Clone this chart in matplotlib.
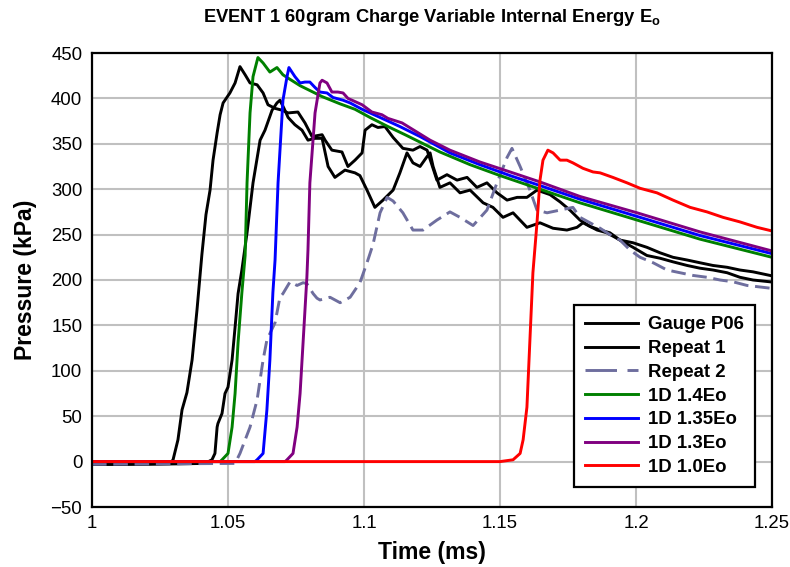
import matplotlib
matplotlib.use("Agg")
import matplotlib.pyplot as plt
from matplotlib.lines import Line2D

plt.rcParams['font.family'] = ['Liberation Sans', 'DejaVu Sans']
plt.rcParams['mathtext.fontset'] = 'custom'
plt.rcParams['mathtext.rm'] = 'Liberation Sans'
plt.rcParams['mathtext.bf'] = 'Liberation Sans:bold'

# ---------------- data (time in ms, pressure in kPa) ----------------
gauge_t = [1.0000, 1.0103, 1.0213, 1.0287, 1.0298, 1.0316, 1.0331, 1.0349, 1.0368, 1.0386,
           1.0404, 1.0419, 1.0434, 1.0445, 1.0460, 1.0471, 1.0482, 1.0507, 1.0526, 1.0544,
           1.0563, 1.0581, 1.0607, 1.0629, 1.0647, 1.0673, 1.0699, 1.0721, 1.0757, 1.0783,
           1.0809, 1.0846, 1.0857, 1.0882, 1.0919, 1.0941, 1.0967, 1.0993, 1.1004, 1.1029,
           1.1051, 1.1077, 1.1107, 1.1143, 1.1180, 1.1206, 1.1232, 1.1268, 1.1305, 1.1342,
           1.1379, 1.1415, 1.1452, 1.1489, 1.1526, 1.1563, 1.1599, 1.1636, 1.1684, 1.1721,
           1.1757, 1.1794, 1.1831, 1.1868, 1.1904, 1.1941, 1.1989, 1.2040, 1.2088, 1.2136,
           1.2188, 1.2235, 1.2283, 1.2335, 1.2382, 1.2430, 1.2493]
gauge_p = [-3, -3, -2, -2, 2, 24, 57, 76, 112, 167,
           228, 272, 299, 332, 362, 382, 395, 406, 417, 435,
           426, 417, 415, 406, 393, 389, 387, 384, 385, 373,
           358, 360, 354, 343, 341, 325, 332, 340, 365, 371,
           368, 369, 357, 345, 343, 347, 343, 310, 316, 310,
           313, 302, 307, 296, 288, 291, 291, 299, 294, 286,
           277, 266, 259, 255, 252, 244, 241, 236, 230, 225,
           222, 219, 216, 214, 211, 209, 205]

rep1_t = [1.0000, 1.0213, 1.0415, 1.0441, 1.0452, 1.0460, 1.0463, 1.0478, 1.0489, 1.0500,
          1.0515, 1.0526, 1.0537, 1.0551, 1.0570, 1.0592, 1.0618, 1.0636, 1.0662, 1.0680,
          1.0691, 1.0706, 1.0721, 1.0746, 1.0772, 1.0794, 1.0820, 1.0846, 1.0868, 1.0893,
          1.0930, 1.0967, 1.0985, 1.1011, 1.1040, 1.1070, 1.1107, 1.1132, 1.1158, 1.1180,
          1.1206, 1.1232, 1.1243, 1.1254, 1.1279, 1.1316, 1.1353, 1.1390, 1.1438, 1.1474,
          1.1511, 1.1548, 1.1599, 1.1647, 1.1695, 1.1746, 1.1783, 1.1805, 1.1857, 1.1893,
          1.1941, 1.1989, 1.2040, 1.2088, 1.2136, 1.2188, 1.2235, 1.2283, 1.2335, 1.2382,
          1.2430, 1.2493]
rep1_p = [-3, -3, -2, 2, 9, 38, 42, 53, 75, 82,
          112, 148, 185, 211, 252, 307, 354, 365, 387, 395,
          398, 389, 379, 371, 365, 354, 356, 356, 325, 313,
          321, 318, 315, 299, 280, 288, 299, 318, 340, 329,
          325, 336, 340, 325, 302, 307, 296, 299, 285, 280,
          269, 274, 258, 263, 257, 255, 258, 263, 255, 252,
          244, 236, 227, 224, 220, 216, 213, 211, 208, 203,
          200, 198]

rep2_t = [1.0000, 1.0526, 1.0544, 1.0581, 1.0607, 1.0629, 1.0643, 1.0673, 1.0691, 1.0702,
          1.0728, 1.0754, 1.0776, 1.0790, 1.0813, 1.0827, 1.0838, 1.0875, 1.0912, 1.0949,
          1.0985, 1.1011, 1.1033, 1.1059, 1.1085, 1.1107, 1.1143, 1.1180, 1.1217, 1.1268,
          1.1316, 1.1353, 1.1401, 1.1452, 1.1489, 1.1526, 1.1544, 1.1574, 1.1610, 1.1636,
          1.1673, 1.1721, 1.1768, 1.1794, 1.1831, 1.1868, 1.1904, 1.1941, 1.1978, 1.2015,
          1.2063, 1.2114, 1.2162, 1.2210, 1.2261, 1.2309, 1.2357, 1.2408, 1.2493]
rep2_p = [-3, -2, 9, 38, 68, 112, 134, 153, 181, 185,
          198, 194, 197, 196, 185, 180, 178, 181, 175, 181,
          197, 219, 239, 274, 291, 287, 274, 255, 255, 266,
          275, 269, 260, 277, 307, 335, 345, 325, 299, 277,
          274, 277, 280, 269, 263, 257, 250, 244, 233, 225,
          219, 211, 208, 205, 203, 200, 198, 194, 191]

e14_t = [1.0000, 1.0471, 1.0478, 1.0500, 1.0515, 1.0526, 1.0537, 1.0551, 1.0563, 1.0570,
         1.0581, 1.0592, 1.0610, 1.0629, 1.0654, 1.0680, 1.0702, 1.0728, 1.0765, 1.0846,
         1.0912, 1.0967, 1.1022, 1.1088, 1.1151, 1.1279, 1.1390, 1.1500, 1.1647, 1.1794,
         1.2004, 1.2235, 1.2500]
e14_p = [0, 0, 2, 9, 38, 75, 131, 186, 227, 307,
         384, 424, 445, 439, 429, 434, 426, 421, 414, 402,
         394, 388, 379, 369, 360, 341, 327, 315, 300, 285,
         266, 245, 225]

e135_t = [1.0000, 1.0599, 1.0607, 1.0629, 1.0643, 1.0654, 1.0665, 1.0673, 1.0684, 1.0702,
          1.0717, 1.0724, 1.0746, 1.0765, 1.0783, 1.0801, 1.0820, 1.0838, 1.0864, 1.0886,
          1.0923, 1.0949, 1.0993, 1.1059, 1.1132, 1.1206, 1.1316, 1.1426, 1.1537, 1.1647,
          1.1794, 1.2004, 1.2235, 1.2500]
e135_p = [0, 0, 2, 9, 57, 112, 186, 222, 307, 398,
          424, 434, 424, 417, 418, 418, 412, 407, 406, 401,
          398, 395, 388, 379, 369, 358, 340, 327, 315, 304,
          289, 270, 249, 229]

e13_t = [1.0000, 1.0710, 1.0717, 1.0739, 1.0754, 1.0765, 1.0776, 1.0790, 1.0794, 1.0801,
         1.0820, 1.0838, 1.0846, 1.0864, 1.0882, 1.0904, 1.0923, 1.0941, 1.0956, 1.0993,
         1.1029, 1.1066, 1.1088, 1.1140, 1.1243, 1.1316, 1.1426, 1.1537, 1.1647, 1.1794,
         1.2004, 1.2235, 1.2500]
e13_p = [0, 0, 2, 9, 38, 75, 131, 203, 233, 307,
         384, 417, 420, 417, 407, 407, 406, 400, 398, 393,
         385, 382, 378, 373, 354, 343, 330, 319, 308, 292,
         274, 253, 232]

e10_t = [1.0000, 1.1500, 1.1548, 1.1574, 1.1585, 1.1599, 1.1610, 1.1621, 1.1636, 1.1647,
         1.1658, 1.1676, 1.1695, 1.1721, 1.1746, 1.1768, 1.1805, 1.1842, 1.1868, 1.1915,
         1.1967, 1.2015, 1.2077, 1.2136, 1.2199, 1.2261, 1.2320, 1.2382, 1.2445, 1.2500]
e10_p = [0, 0, 2, 9, 24, 60, 134, 208, 263, 310,
         332, 343, 340, 332, 332, 329, 323, 319, 318, 313,
         307, 301, 296, 288, 280, 275, 269, 264, 258, 254]

series = [
    ("Gauge P06", gauge_t, gauge_p, "#000000", "-"),
    ("Repeat 1", rep1_t, rep1_p, "#000000", "-"),
    ("Repeat 2", rep2_t, rep2_p, "#6E6E9E", (0, (5, 2.3))),
    ("1D 1.4Eo", e14_t, e14_p, "#008000", "-"),
    ("1D 1.35Eo", e135_t, e135_p, "#0000FF", "-"),
    ("1D 1.3Eo", e13_t, e13_p, "#800080", "-"),
    ("1D 1.0Eo", e10_t, e10_p, "#FF0000", "-"),
]

x_ticks = [1, 1.05, 1.1, 1.15, 1.2, 1.25]
x_tick_labels = ["1", "1.05", "1.1", "1.15", "1.2", "1.25"]
y_ticks = [-50, 0, 50, 100, 150, 200, 250, 300, 350, 400, 450]

# ---------------- figure ----------------
fig = plt.figure(figsize=(7.9, 5.67), dpi=100)
ax = fig.add_axes([92 / 790, 1 - 507 / 567, 680 / 790, 454 / 567])

handles = []
labels = []
for label, t, p, c, ls in series:
    ln, = ax.plot(t, p, color=c, lw=2.1, ls=ls, label=label, solid_joinstyle='round')
    if label == "Repeat 2":
        h = Line2D([], [], color=c, lw=2.1, ls=(0, (10.8, 3.6)))
    else:
        h = Line2D([], [], color=c, lw=2.1, ls=ls)
    handles.append(h)
    labels.append(label)

ax.set_xlim(1.0, 1.25)
ax.set_ylim(-50, 450)
ax.set_xticks(x_ticks)
ax.set_xticklabels(x_tick_labels)
ax.set_yticks(y_ticks)
ax.grid(True, color="#C0C0C0", lw=1.5)
ax.set_axisbelow(True)
ax.tick_params(length=0, labelsize=13.4, colors="#000000")
ax.tick_params(axis='y', pad=7)
ax.tick_params(axis='x', pad=6)
for s in ax.spines.values():
    s.set_linewidth(1.6)
    s.set_color("black")

ax.set_xlabel("Time (ms)", fontsize=16.6, fontweight="bold", labelpad=6)
ax.set_ylabel("Pressure (kPa)", fontsize=16.6, fontweight="bold", labelpad=10)
ax.set_title(r"EVENT 1 60gram Charge Variable Internal Energy E$_\mathbf{o}$",
             fontsize=13.2, fontweight="bold", pad=22)

leg = ax.legend(handles, labels, loc="lower right", bbox_to_anchor=(0.975, 0.044),
                prop={"weight": "bold", "size": 13.4}, frameon=True, fancybox=False,
                edgecolor="black", framealpha=1, handlelength=2.85, handletextpad=0.55,
                labelspacing=0.36, borderpad=0.6, borderaxespad=0.0)
leg.get_frame().set_linewidth(1.6)

fig.savefig("out.png", dpi=100)
